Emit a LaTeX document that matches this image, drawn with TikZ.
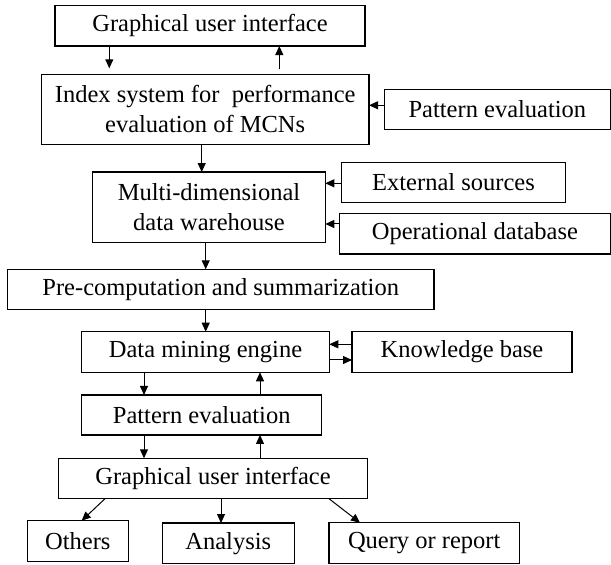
\documentclass[tikz,border=0pt]{standalone}
\usepackage{fontspec}
\setmainfont{Liberation Serif}
\usetikzlibrary{arrows.meta}
\begin{document}
\begin{tikzpicture}[x=0.5pt,y=-0.5pt,
  box/.style={draw, line width=0.6pt, inner sep=0pt, outer sep=0pt, align=center,
    font=\fontsize{12.25}{15}\selectfont},
  arr/.style={-{Triangle[length=4.5pt,width=4pt]}, line width=0.5pt}]
\useasboundingbox (0,0) rectangle (611,565);
% nodes
\node[box, minimum width=155pt, minimum height=20.35pt] (gui1) at (210,25.7) {Graphical user interface};
\node[box, minimum width=163.85pt, minimum height=35.2pt] (index) at (205.2,109.5) {Index system for \ performance\\evaluation of MCNs};
\node[box, minimum width=113.1pt, minimum height=20.2pt] (pe1) at (497.4,109.5) {Pattern evaluation};
\node[box, minimum width=116.3pt, minimum height=35.15pt] (multi) at (209,207.2) {Multi-dimensional\\data warehouse};
\node[box, minimum width=112.2pt, minimum height=20.2pt] (ext) at (453.5,182.5) {External sources};
\node[box, minimum width=135.6pt, minimum height=20.35pt] (opdb) at (474.9,233.7) {Operational database};
\node[box, minimum width=213.35pt, minimum height=20pt] (pre) at (220.7,289.3) {Pre-computation and summarization};
\node[box, minimum width=123.8pt, minimum height=20.3pt] (dme) at (205.5,352) {Data mining engine};
\node[box, minimum width=110pt, minimum height=20.3pt] (kb) at (462,352) {Knowledge base};
\node[box, minimum width=120pt, minimum height=20pt] (pe2) at (201.7,415) {Pattern evaluation};
\node[box, minimum width=154.7pt, minimum height=20.2pt] (gui2) at (213,478.5) {Graphical user interface};
\node[box, minimum width=50.5pt, minimum height=20.5pt] (others) at (77.8,541.2) {Others};
\node[box, minimum width=66pt, minimum height=20.15pt] (analysis) at (228.3,543.2) {Analysis};
\node[box, minimum width=95.15pt, minimum height=20.3pt] (query) at (424.2,543) {Query or report};
% helper coordinates
\coordinate (xa) at (109.3,0);
\coordinate (xb) at (279.3,0);
\coordinate (xc) at (201.7,0);
\coordinate (xd) at (205.7,0);
\coordinate (xe) at (144,0);
\coordinate (xf) at (260,0);
\coordinate (ya) at (0,105.3);
\coordinate (yb) at (0,183.3);
\coordinate (yc) at (0,224);
\coordinate (yd) at (0,344.3);
\coordinate (ye) at (0,360);
\coordinate (o1) at (105,0);
\coordinate (o2) at (81.7,0);
\coordinate (an) at (221,0);
\coordinate (q1) at (329,0);
\coordinate (q2) at (360,0);
% connectors
\draw[arr] (gui1.south -| xa) -- ([yshift=3pt]index.north -| xa);
\draw[arr] ([yshift=2.5pt]index.north -| xb) -- (gui1.south -| xb);
\draw[arr] (pe1.west |- ya) -- (index.east |- ya);
\draw[arr] (index.south -| xc) -- (multi.north -| xc);
\draw[arr] (ext.west |- yb) -- (multi.east |- yb);
\draw[arr] (opdb.west |- yc) -- (multi.east |- yc);
\draw[arr] (multi.south -| xd) -- (pre.north -| xd);
\draw[arr] (pre.south -| xd) -- (dme.north -| xd);
\draw[arr] (kb.west |- yd) -- (dme.east |- yd);
\draw[arr] (dme.east |- ye) -- (kb.west |- ye);
\draw[arr] (dme.south -| xe) -- (pe2.north -| xe);
\draw[arr] (pe2.north -| xf) -- (dme.south -| xf);
\draw[arr] (pe2.south -| xe) -- (gui2.north -| xe);
\draw[arr] (gui2.north -| xf) -- (pe2.south -| xf);
\draw[arr] (gui2.south -| o1) -- (others.north -| o2);
\draw[arr] (gui2.south -| an) -- (analysis.north -| an);
\draw[arr] (gui2.south -| q1) -- (query.north -| q2);
\end{tikzpicture}
\end{document}
